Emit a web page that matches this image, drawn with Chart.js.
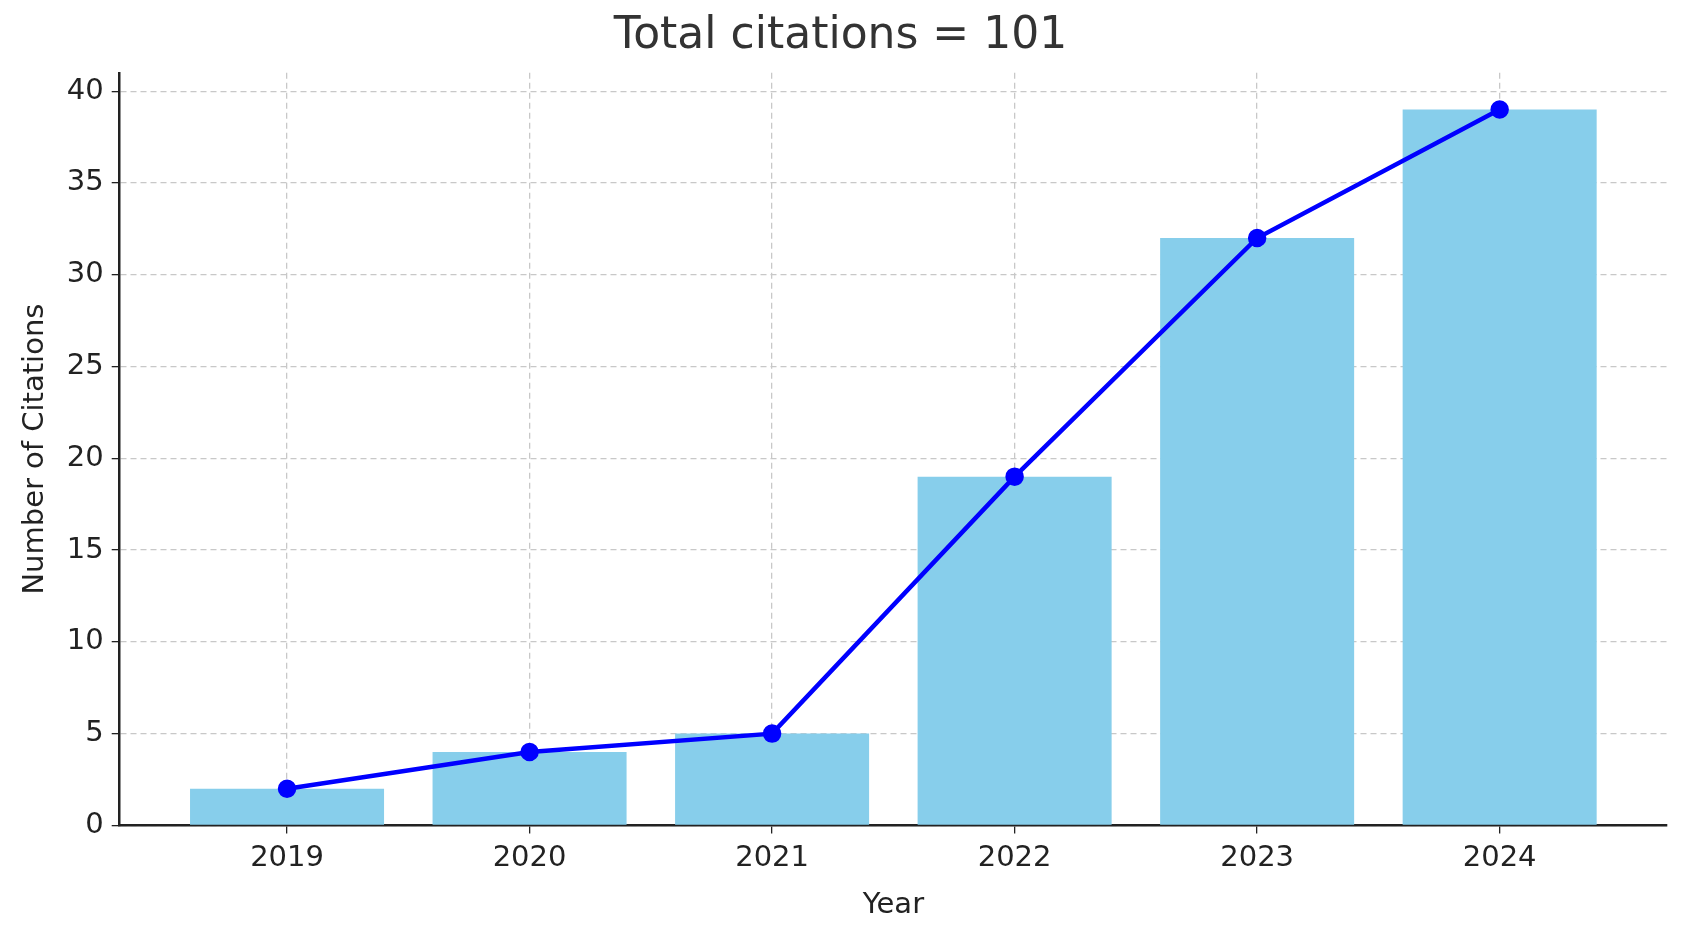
<!DOCTYPE html>
<html>
<head>
<meta charset="utf-8">
<script src="https://cdn.jsdelivr.net/npm/chart.js@4"></script>
<style>body{margin:0;background:#fff}</style>
</head>
<body>
<canvas id="c" width="1686" height="947"></canvas>
<script>
// chart data
const years = [2019, 2020, 2021, 2022, 2023, 2024];
const citations = [2, 4, 5, 19, 32, 39];
const yTicks = [0, 5, 10, 15, 20, 25, 30, 35, 40];

const pts = years.map((y, i) => ({ x: y, y: citations[i] }));
const FONT = "'DejaVu Sans', sans-serif";

new Chart(document.getElementById("c"), {
  data: {
    datasets: [
      {
        type: "line",
        data: pts,
        borderColor: "#0000ff",
        backgroundColor: "#0000ff",
        borderWidth: 4.5,
        pointRadius: 7,
        pointHoverRadius: 7,
        order: 0,
      },
      {
        type: "bar",
        data: pts,
        backgroundColor: "#87ceeb",
        barPercentage: 0.8,
        categoryPercentage: 1,
        order: 1,
      },
    ],
  },
  options: {
    responsive: false,
    devicePixelRatio: 1,
    animation: false,
    layout: { padding: { left: 14, right: 19, top: 2, bottom: 20 } },
    plugins: {
      legend: { display: false },
      tooltip: { enabled: false },
      title: {
        display: true,
        text: "Total citations = 101",
        color: "#333",
        font: { family: FONT, size: 44, weight: "normal" },
        padding: { top: 8, bottom: 10 },
      },
    },
    scales: {
      x: {
        type: "linear",
        offset: false,
        min: 2018.31,
        max: 2024.69,
        afterBuildTicks: (s) => { s.ticks = years.map((v) => ({ value: v })); },
        ticks: { color: "#222", font: { family: FONT, size: 29 }, callback: (v) => String(v), padding: 8 },
        grid: { offset: false, color: "#c8c8c8", tickColor: "#222", tickLength: 8, lineWidth: 1.3 },
        border: { display: true, color: "#222", width: 2.5, dash: [6, 4] },
        title: { display: true, text: "Year", color: "#222", font: { family: FONT, size: 29 }, padding: { top: 4 } },
      },
      y: {
        min: 0,
        max: 41,
        afterBuildTicks: (s) => { s.ticks = yTicks.map((v) => ({ value: v })); },
        ticks: { color: "#222", font: { family: FONT, size: 29 }, padding: 8 },
        grid: { color: "#c8c8c8", tickColor: "#222", tickLength: 8, lineWidth: 1.3 },
        border: { display: true, color: "#222", width: 2.5, dash: [6, 4] },
        title: { display: true, text: "Number of Citations", color: "#222", font: { family: FONT, size: 29 }, padding: { bottom: 6 } },
      },
    },
  },
});
</script>
</body>
</html>
